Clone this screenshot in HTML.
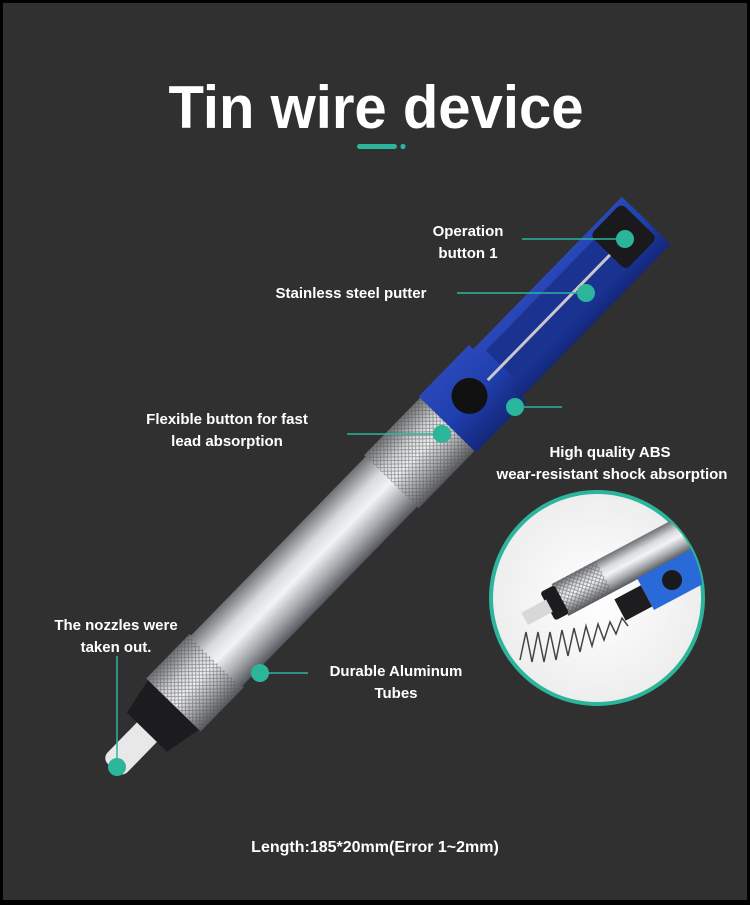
<!DOCTYPE html>
<html><head><meta charset="utf-8"><style>
html,body{margin:0;padding:0;background:#000;}
svg{display:block}
text{font-family:"Liberation Sans","DejaVu Sans",sans-serif;font-weight:bold;fill:#fff}
</style></head><body>
<svg width="750" height="905" viewBox="0 0 750 905" xmlns="http://www.w3.org/2000/svg">
<defs>
<linearGradient id="alu" x1="0" y1="0" x2="0" y2="1">
<stop offset="0" stop-color="#6d7074"/><stop offset="0.3" stop-color="#d8dadc"/><stop offset="0.5" stop-color="#f2f3f4"/><stop offset="0.75" stop-color="#a9acb0"/><stop offset="1" stop-color="#55585c"/>
</linearGradient>
<linearGradient id="blue" x1="0" y1="0" x2="0" y2="1">
<stop offset="0" stop-color="#2a48b8"/><stop offset="0.5" stop-color="#1f3fae"/><stop offset="1" stop-color="#14287a"/>
</linearGradient>
<pattern id="knurl" width="5" height="5" patternUnits="userSpaceOnUse">
<path d="M0 0L5 5M5 0L0 5" stroke="#555" stroke-width="0.8" opacity="0.6"/>
</pattern>
<radialGradient id="insetbg" cx="0.5" cy="0.5" r="0.5"><stop offset="0" stop-color="#fff"/><stop offset="1" stop-color="#eeeeee"/></radialGradient>
<clipPath id="cc"><circle cx="597" cy="598" r="106"/></clipPath>
</defs>
<rect x="0" y="0" width="750" height="905" fill="#000"/>
<rect x="3" y="3" width="744" height="897" fill="#303030"/>

<text x="376" y="128" font-size="60" text-anchor="middle" textLength="415" lengthAdjust="spacingAndGlyphs">Tin wire device</text>
<rect x="357" y="144" width="40" height="5" rx="2.5" fill="#2bb59a"/>
<circle cx="403" cy="146.5" r="2.6" fill="#2bb59a"/>

<!-- pen -->
<g transform="translate(112,768) rotate(-45.7)">
  <!-- nozzle -->
  <rect x="0" y="-14" width="60" height="28" rx="8" fill="#e8e8e8"/>
  <!-- black cap -->
  <path d="M50 -28 L90 -36 L90 36 L50 28 Z" fill="#1c1c1e"/>
  <!-- lower knurl -->
  <rect x="88" y="-38" width="62" height="76" fill="url(#alu)"/>
  <rect x="88" y="-38" width="62" height="76" fill="url(#knurl)"/>
  <!-- tube -->
  <rect x="148" y="-36" width="260" height="72" fill="url(#alu)"/>
  <!-- upper knurl -->
  <rect x="400" y="-38" width="82" height="76" fill="url(#alu)"/>
  <rect x="400" y="-38" width="82" height="76" fill="url(#knurl)"/>
  <!-- blue handle -->
  <rect x="480" y="-40" width="72" height="80" fill="url(#blue)"/>
  <rect x="550" y="-34" width="215" height="68" fill="url(#blue)"/>
  <rect x="560" y="-24" width="180" height="40" fill="#1a3290"/>
  <line x1="540" y1="-2" x2="730" y2="-2" stroke="#c8c8cc" stroke-width="3"/>
  <rect x="715" y="-30" width="45" height="50" rx="6" fill="#1a1a1c"/>
  <circle cx="516" cy="-4" r="18" fill="#111" />
</g>

<!-- inset -->
<circle cx="597" cy="598" r="108" fill="#2bb59a"/>
<circle cx="597" cy="598" r="104" fill="url(#insetbg)"/>
<g clip-path="url(#cc)">
  <g transform="translate(560,600) rotate(-28)">
    <rect x="0" y="-18" width="200" height="36" fill="url(#alu)"/>
    <rect x="0" y="-18" width="50" height="36" fill="url(#knurl)"/>
    <rect x="-14" y="-16" width="16" height="32" rx="3" fill="#1c1c1e"/>
    <rect x="-40" y="-7" width="28" height="14" fill="#d8d8d8"/>
  </g>
  <g transform="translate(620,610) rotate(-28)">
    <rect x="30" y="-20" width="100" height="36" fill="#2a6ad8"/>
    <circle cx="60" cy="-2" r="10" fill="#1a1a1c"/>
    <rect x="0" y="-12" width="30" height="24" fill="#1d1d1f"/>
  </g>
  <path d="M520 660 l6 -28 l6 30 l6 -30 l6 30 l6 -30 l6 28 l6 -30 l6 26 l6 -28 l6 24 l6 -26 l6 20 l6 -22 l6 16 l6 -18 l6 12 l6 -16 l6 8" fill="none" stroke="#444" stroke-width="1.5"/>
</g>

<!-- connectors -->
<g stroke="#2bb59a" stroke-width="1.5">
<line x1="522" y1="239" x2="625" y2="239"/>
<line x1="457" y1="293" x2="585" y2="293"/>
<line x1="515" y1="407" x2="562" y2="407"/>
<line x1="347" y1="434" x2="442" y2="434"/>
<line x1="260" y1="673" x2="308" y2="673"/>
<line x1="117" y1="656" x2="117" y2="765"/>
</g>
<g fill="#2bb59a">
<circle cx="625" cy="239" r="9"/>
<circle cx="586" cy="293" r="9"/>
<circle cx="515" cy="407" r="9"/>
<circle cx="442" cy="434" r="9"/>
<circle cx="260" cy="673" r="9"/>
<circle cx="117" cy="767" r="9"/>
</g>

<g font-size="15">
<text x="468" y="236" text-anchor="middle">Operation</text>
<text x="468" y="258" text-anchor="middle">button 1</text>
<text x="351" y="298" text-anchor="middle">Stainless steel putter</text>
<text x="227" y="424" text-anchor="middle">Flexible button for fast</text>
<text x="227" y="446" text-anchor="middle">lead absorption</text>
<text x="610" y="457" text-anchor="middle">High quality ABS</text>
<text x="612" y="479" text-anchor="middle">wear-resistant shock absorption</text>
<text x="116" y="630" text-anchor="middle">The nozzles were</text>
<text x="116" y="652" text-anchor="middle">taken out.</text>
<text x="396" y="676" text-anchor="middle">Durable Aluminum</text>
<text x="396" y="698" text-anchor="middle">Tubes</text>
<text x="375" y="852" text-anchor="middle" font-size="16">Length:185*20mm(Error 1~2mm)</text>
</g>
</svg>
</body></html>
